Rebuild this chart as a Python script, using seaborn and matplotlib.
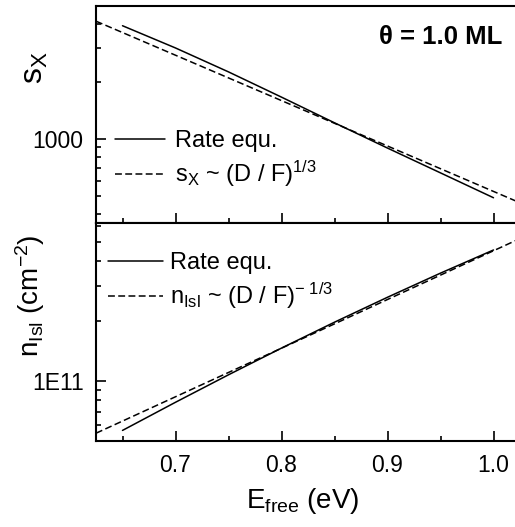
import numpy as np
import pandas as pd
import matplotlib
matplotlib.use("Agg")
import matplotlib.pyplot as plt
import seaborn as sns
from matplotlib.ticker import FixedLocator, NullFormatter, FuncFormatter

# ---- data ----
e_rate = [0.65, 0.70, 0.75, 0.80, 0.85, 0.90, 0.95, 1.00]
sx_rate = [3936, 3006, 2249, 1656, 1213, 893, 661, 489]
e_fit = [0.625, 0.725, 0.825, 0.925, 1.025]
sx_fit = [4159, 2399, 1384, 798, 460]
nisl_rate = [5.65e10, 7.82e10, 1.074e11, 1.462e11, 1.972e11, 2.63e11, 3.475e11, 4.54e11]
nisl_fit = [5.47e10, 9.59e10, 1.68e11, 2.95e11, 5.18e11]

top_labels = ["Rate equ.", r"s$_\mathrm{X}$ ~ (D / F)$^{1/3}$"]
bot_labels = ["Rate equ.", r"n$_\mathrm{Isl}$ ~ (D / F)$^{\mathrm{-\ 1/3}}$"]

sns.set_style("ticks")
plt.rcParams["font.family"] = ["Liberation Sans", "DejaVu Sans"]
plt.rcParams["mathtext.fontset"] = "custom"
plt.rcParams["mathtext.rm"] = "Liberation Sans"
plt.rcParams["mathtext.it"] = "Liberation Sans:italic"
plt.rcParams["mathtext.bf"] = "Liberation Sans:bold"
plt.rcParams["axes.linewidth"] = 1.5
for k in ["text.color", "axes.labelcolor", "xtick.color", "ytick.color", "axes.edgecolor"]:
    plt.rcParams[k] = "black"

W, H = 515, 527
fig = plt.figure(figsize=(W / 100, H / 100), dpi=100)
ax1 = fig.add_axes([96 / W, 1 - 223 / H, 424 / W, 217 / H])
ax2 = fig.add_axes([96 / W, 1 - 441 / H, 424 / W, 218 / H])

dash = (0, (4.5, 2.2))
lw = 1.1
sns.lineplot(x=e_rate, y=sx_rate, ax=ax1, color="black", lw=lw, label=top_labels[0])
sns.lineplot(x=e_fit, y=sx_fit, ax=ax1, color="black", lw=lw, linestyle=dash, label=top_labels[1])
sns.lineplot(x=e_rate, y=nisl_rate, ax=ax2, color="black", lw=lw, label=bot_labels[0])
sns.lineplot(x=e_fit, y=nisl_fit, ax=ax2, color="black", lw=lw, linestyle=dash, label=bot_labels[1])

for ax in (ax1, ax2):
    ax.set_yscale("log")
    ax.set_xlim(0.625, 1.025)
    ax.xaxis.set_major_locator(FixedLocator([0.7, 0.8, 0.9, 1.0]))
    ax.xaxis.set_minor_locator(FixedLocator([0.65, 0.75, 0.85, 0.95]))
    ax.tick_params(which="major", direction="in", length=7.2, width=1.2, labelsize=16.5, pad=9)
    ax.tick_params(which="minor", direction="in", length=3.6, width=1.2)
    ax.tick_params(axis="x", which="both", top=False, bottom=True)
    ax.tick_params(axis="y", which="both", left=True, right=False)
    ax.yaxis.set_minor_formatter(NullFormatter())
    ax.set_xlabel("")
    ax.set_ylabel("")

ax1.set_ylim(360, 5000)
ax1.yaxis.set_major_locator(FixedLocator([1000]))
ax1.yaxis.set_minor_locator(FixedLocator([400, 500, 600, 700, 800, 900, 2000, 3000, 4000]))
ax1.yaxis.set_major_formatter(FuncFormatter(lambda v, p: "1000"))
ax1.tick_params(axis="x", labelbottom=False)

ax2.set_ylim(5e10, 6.2e11)
ax2.yaxis.set_major_locator(FixedLocator([1e11]))
ax2.yaxis.set_minor_locator(FixedLocator([6e10, 7e10, 8e10, 9e10, 2e11, 3e11, 4e11, 5e11, 6e11]))
ax2.yaxis.set_major_formatter(FuncFormatter(lambda v, p: "1E11"))
ax2.xaxis.set_major_formatter(FuncFormatter(lambda v, p: f"{v:.1f}"))

ax1.set_ylabel(r"s$_\mathrm{X}$", fontsize=23)
ax1.yaxis.set_label_coords(-0.108, 0.717)
ax2.set_ylabel(r"n$_\mathrm{Isl}$ (cm$^{-2}$)", fontsize=20)
ax2.yaxis.set_label_coords(-0.116, 0.665)
ax2.set_xlabel(r"E$_\mathrm{free}$ (eV)", fontsize=20)
ax2.xaxis.set_label_coords(0.487, -0.206)

ax1.legend(loc="upper left", bbox_to_anchor=(0.045, 0.428), frameon=False, fontsize=17,
           handlelength=2.1, handletextpad=0.45, borderpad=0, borderaxespad=0, labelspacing=0.3)
ax2.legend(loc="upper left", bbox_to_anchor=(0.028, 0.868), frameon=False, fontsize=17,
           handlelength=2.35, handletextpad=0.3, borderpad=0, borderaxespad=0, labelspacing=0.3)

ax1.text(0.958, 0.857, "θ = 1.0 ML", transform=ax1.transAxes, ha="right", va="center",
         fontsize=18.5, fontweight="bold")

fig.savefig("out.png", dpi=100)
